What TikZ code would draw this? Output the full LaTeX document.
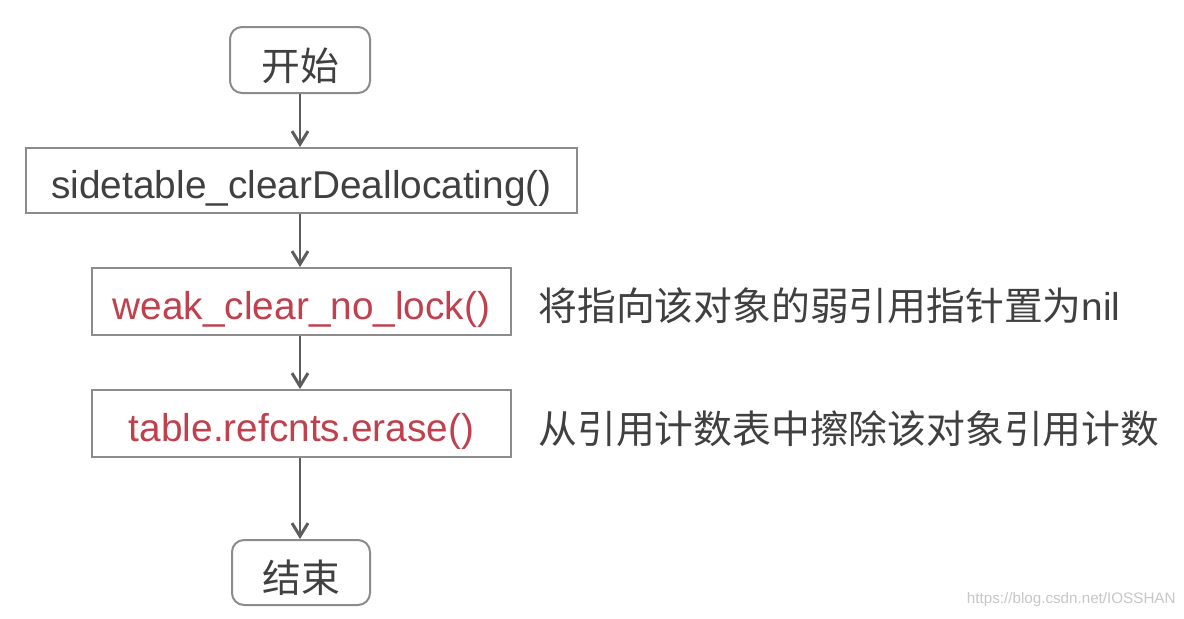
\documentclass[tikz,border=0pt]{standalone}
\usepackage{fontspec}
\setmainfont{Liberation Sans}
\newfontfamily\cjk{Noto Sans CJK SC}
\usetikzlibrary{arrows.meta}
\definecolor{boxgray}{HTML}{8C8C8C}
\definecolor{txtgray}{HTML}{404040}
\definecolor{codered}{HTML}{C0404E}
\definecolor{arrgray}{HTML}{5C5C5C}
\begin{document}
\begin{tikzpicture}[x=0.5pt,y=-0.5pt,
  box/.style={draw=boxgray,line width=1pt,inner sep=0pt,fill=white,
    font=\fontsize{19.4}{22}\selectfont,text=txtgray,text height=18pt,text depth=0pt},
  term/.style={box,rounded corners=6pt,font=\cjk\fontsize{19.4}{22}\selectfont,text height=20pt},
  code/.style={box,text=codered},
  note/.style={anchor=west,inner sep=0pt,text=txtgray,font=\fontsize{19.4}{22}\selectfont},
  flow/.style={draw=arrgray,line width=0.9pt,-{Straight Barb[length=6.5pt,width=8pt,line width=1.5pt]}}
]
\useasboundingbox[fill=white] (0,0) rectangle (1184,618);

\node[term,minimum width=70pt,minimum height=33pt] (start) at (300,60) {开始};
\node[box,minimum width=275.5pt,minimum height=32.5pt] (clear) at (301.5,180.5) {sidetable\_clearDeallocating()};
\node[code,minimum width=209.5pt,minimum height=33.5pt] (weak) at (301.5,301.5) {weak\_clear\_no\_lock()};
\node[code,minimum width=209.5pt,minimum height=33.5pt] (erase) at (301.5,423.5) {table.refcnts.erase()};
\node[term,minimum width=69pt,minimum height=32.5pt] (end) at (301,572.5) {结束};

\node[note] (n1) at (538,306) {{\cjk 将指向该对象的弱引用指针置为}nil};
\node[note] (n2) at (538,429) {{\cjk 从引用计数表中擦除该对象引用计数}};

\draw[flow] (start.south) -- (start.south |- clear.north);
\draw[flow] (start.south |- clear.south) -- (start.south |- weak.north);
\draw[flow] (start.south |- weak.south) -- (start.south |- erase.north);
\draw[flow] (start.south |- erase.south) -- (start.south |- end.north);

\node[anchor=east,inner sep=0pt,text=black!22,font=\fontsize{7.6}{9}\selectfont] (wm) at (1176,600) {https://blog.csdn.net/IOSSHAN};
\end{tikzpicture}
\end{document}
